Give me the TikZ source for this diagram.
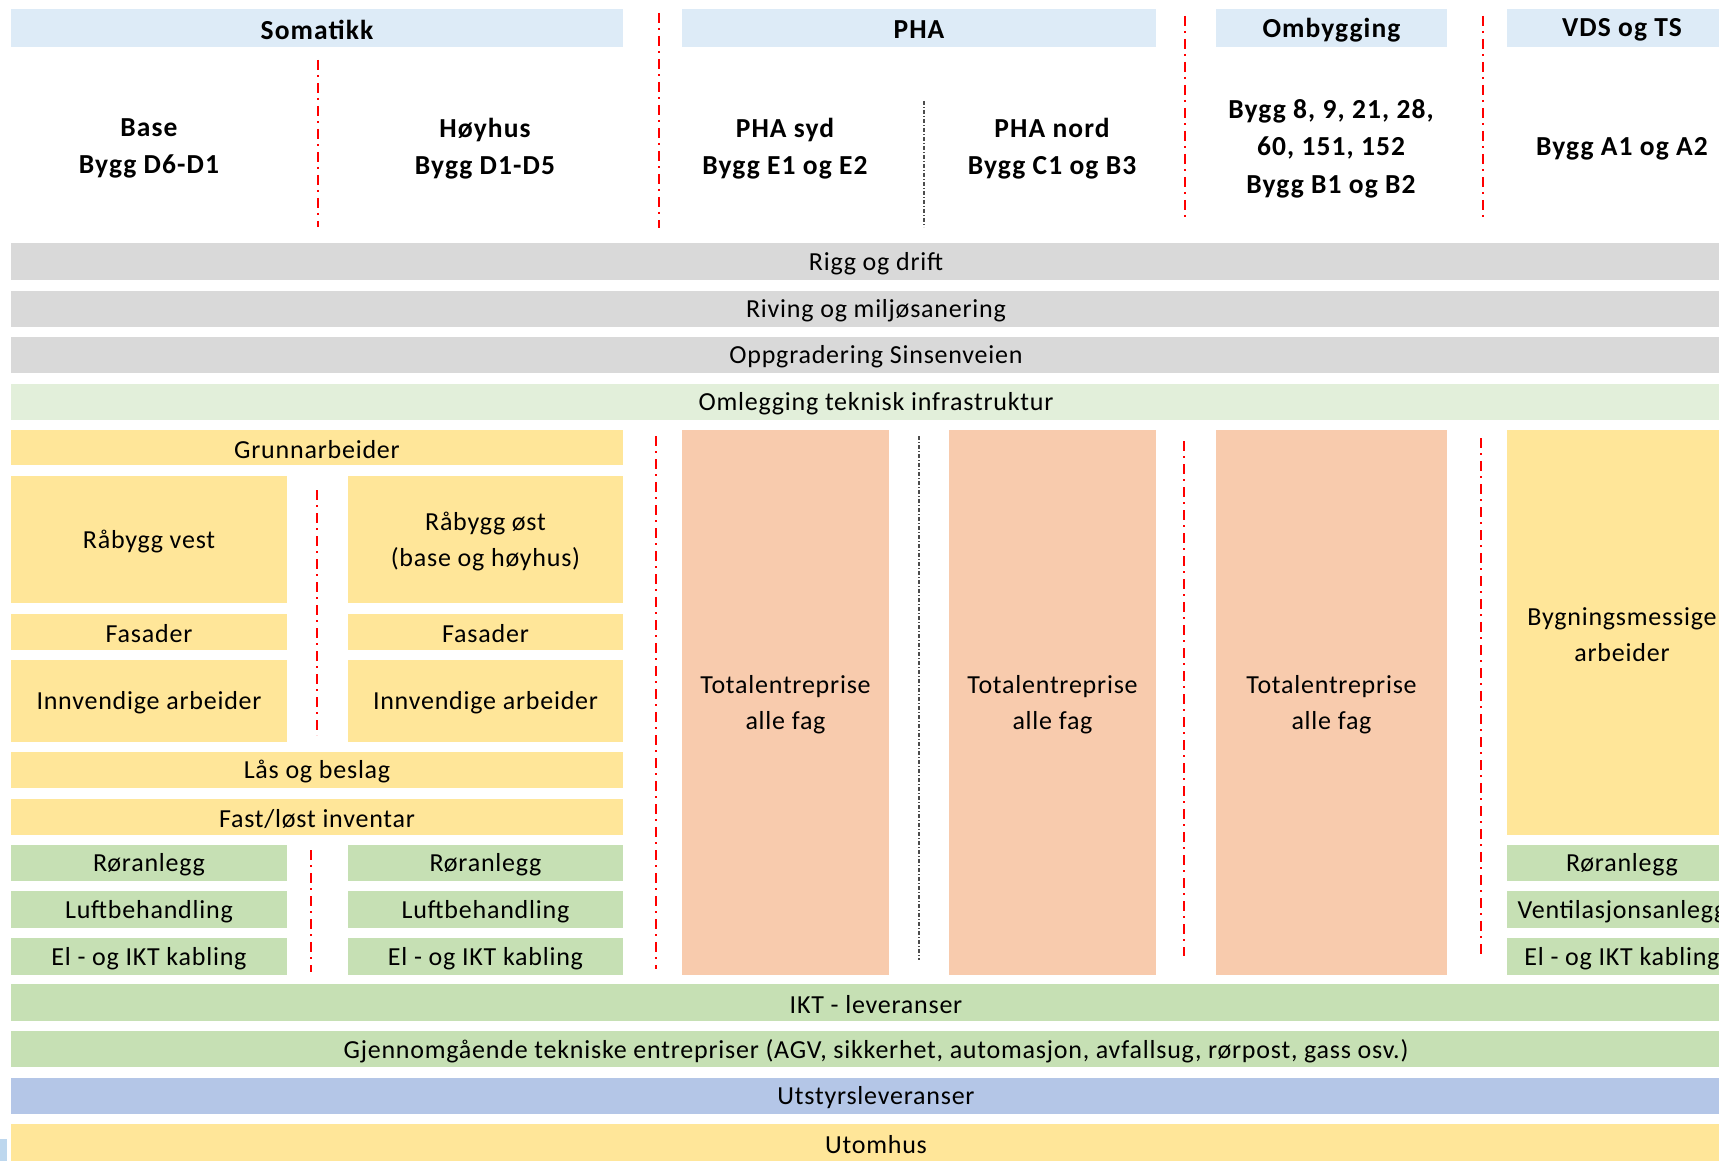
\documentclass[tikz,border=0pt]{standalone}
\usepackage{fontspec}
\setmainfont{Carlito}
\newfontfamily\regf{Carlito}[LetterSpace=3]
\newfontfamily\hdrf{Carlito}[LetterSpace=4]
\definecolor{hdr}{HTML}{DDEBF7}
\definecolor{gry}{HTML}{D9D9D9}
\definecolor{lgr}{HTML}{E2EFDA}
\definecolor{yel}{HTML}{FFE699}
\definecolor{sal}{HTML}{F8CBAD}
\definecolor{grn}{HTML}{C6E0B4}
\definecolor{blu}{HTML}{B4C6E7}
\definecolor{lblu}{HTML}{BDD7EE}
\newcommand\myfs{\regf\fontsize{26}{36.5}\selectfont}
\newcommand\myhfs{\hdrf\bfseries\fontsize{27.5}{37.5}\selectfont}
\newcommand\bx[7]{\node[box, fill=#2, minimum width={(#5-#3)*1pt}, minimum height={(#6-#4)*1pt}, label={[lbl]center:{#7}}] (#1) at ({(#3+#5)/2},{(#4+#6)/2}) {};}
\tikzset{
  box/.style={draw=none, inner sep=0pt},
  lbl/.style={inner sep=0pt, align=center, font=\myfs, yshift=-2pt},
  hlbl/.style={inner sep=0pt, align=center, font=\myhfs, yshift=-2pt},
  htext/.style={inner sep=0pt, align=center, font=\myhfs, yshift=-2pt},
  reddiv/.style={red, line width=2.6pt, dash pattern=on 10pt off 5pt on 2pt off 6pt},
  graydiv/.style={black!70, line width=1.1pt, dash pattern=on 4pt off 2pt on 1pt off 2pt},
}
\begin{document}
\begin{tikzpicture}[x=1pt,y=-1pt]
\useasboundingbox (0,0) rectangle (1719,1161);
\clip (0,0) rectangle (1719,1161);
% header bands
\node[box, fill=hdr, minimum width=612pt, minimum height=38pt, label={[hlbl]center:Somatikk}] (som) at (317,28) {};
\node[box, fill=hdr, minimum width=474pt, minimum height=38pt, label={[hlbl]center:PHA}] (pha) at (919,28) {};
\node[box, fill=hdr, minimum width=231pt, minimum height=38pt, label={[hlbl]center:Ombygging}] (omb) at (1331.5,28) {};
\node[box, fill=hdr, minimum width=230pt, minimum height=38pt, label={[hlbl]center:VDS og TS}] (vds) at (1622,28) {};
% header texts
\node[htext] (base) at (149,146.5) {Base\\Bygg D6-D1};
\node[htext] (hoy) at (485,146.5) {Høyhus\\Bygg D1-D5};
\node[htext] (syd) at (785,146.5) {PHA syd\\Bygg E1 og E2};
\node[htext] (nord) at (1052,146.5) {PHA nord\\Bygg C1 og B3};
\node[htext] (byggs) at (1331,146.5) {Bygg 8, 9, 21, 28,\\60, 151, 152\\Bygg B1 og B2};
\node[htext] (bygga) at (1622,146.5) {Bygg A1 og A2};
% header dividers
\draw[reddiv] (659,13) -- (659,228);
\draw[reddiv] (318,60) -- (318,227);
\draw[graydiv] (924,101) -- (924,227);
\draw[reddiv] (1185,16) -- (1185,219);
\draw[reddiv] (1483,16) -- (1483,221);
% full-width bands
\bx{rigg}{gry}{11}{243}{1741}{280}{Rigg og drift}
\bx{riv}{gry}{11}{291}{1741}{327}{Riving og miljøsanering}
\bx{opp}{gry}{11}{337}{1741}{373}{Oppgradering Sinsenveien}
\bx{oml}{lgr}{11}{384}{1741}{420}{Omlegging teknisk infrastruktur}
% Somatikk blocks
\bx{grunn}{yel}{11}{430}{623}{465}{Grunnarbeider}
\bx{rabv}{yel}{11}{476}{287}{603}{Råbygg vest}
\bx{rabo}{yel}{348}{476}{623}{603}{Råbygg øst\\(base og høyhus)}
\bx{fasv}{yel}{11}{614}{287}{650}{Fasader}
\bx{faso}{yel}{348}{614}{623}{650}{Fasader}
\bx{innv}{yel}{11}{660}{287}{742}{Innvendige arbeider}
\bx{inno}{yel}{348}{660}{623}{742}{Innvendige arbeider}
\bx{las}{yel}{11}{752}{623}{788}{Lås og beslag}
\bx{fast}{yel}{11}{799}{623}{835}{Fast/løst inventar}
\bx{rorv}{grn}{11}{845}{287}{881}{Røranlegg}
\bx{roro}{grn}{348}{845}{623}{881}{Røranlegg}
\bx{luftv}{grn}{11}{891}{287}{928}{Luftbehandling}
\bx{lufto}{grn}{348}{891}{623}{928}{Luftbehandling}
\bx{elv}{grn}{11}{938}{287}{975}{El - og IKT kabling}
\bx{elo}{grn}{348}{938}{623}{975}{El - og IKT kabling}
% Totalentreprise columns
\bx{tot1}{sal}{682}{430}{889}{975}{Totalentreprise\\alle fag}
\bx{tot2}{sal}{949}{430}{1156}{975}{Totalentreprise\\alle fag}
\bx{tot3}{sal}{1216}{430}{1447}{975}{Totalentreprise\\alle fag}
% VDS column
\bx{bygm}{yel}{1507}{430}{1737}{835}{Bygningsmessige\\arbeider}
\bx{rorvds}{grn}{1507}{845}{1737}{881}{Røranlegg}
\bx{vent}{grn}{1507}{891}{1737}{928}{Ventilasjonsanlegg}
\bx{elvds}{grn}{1507}{938}{1737}{975}{El - og IKT kabling}
% bottom bands
\bx{ikt}{grn}{11}{984}{1741}{1021}{IKT - leveranser}
\bx{gjen}{grn}{11}{1031}{1741}{1067}{Gjennomgående tekniske entrepriser (AGV, sikkerhet, automasjon, avfallsug, rørpost, gass osv.)}
\bx{utst}{blu}{11}{1078}{1741}{1114}{Utstyrsleveranser}
\bx{utom}{yel}{11}{1124}{1741}{1162}{Utomhus}
% body dividers
\draw[reddiv] (317,490) -- (317,735);
\draw[reddiv] (311,850) -- (311,972);
\draw[reddiv] (656,436) -- (656,969);
\draw[graydiv] (919,436) -- (919,960);
\draw[reddiv] (1184,441) -- (1184,956);
\draw[reddiv] (1481,438) -- (1481,956);
% small mark bottom left
\fill[lblu] (0,1139) rectangle (7,1161);
\end{tikzpicture}
\end{document}
